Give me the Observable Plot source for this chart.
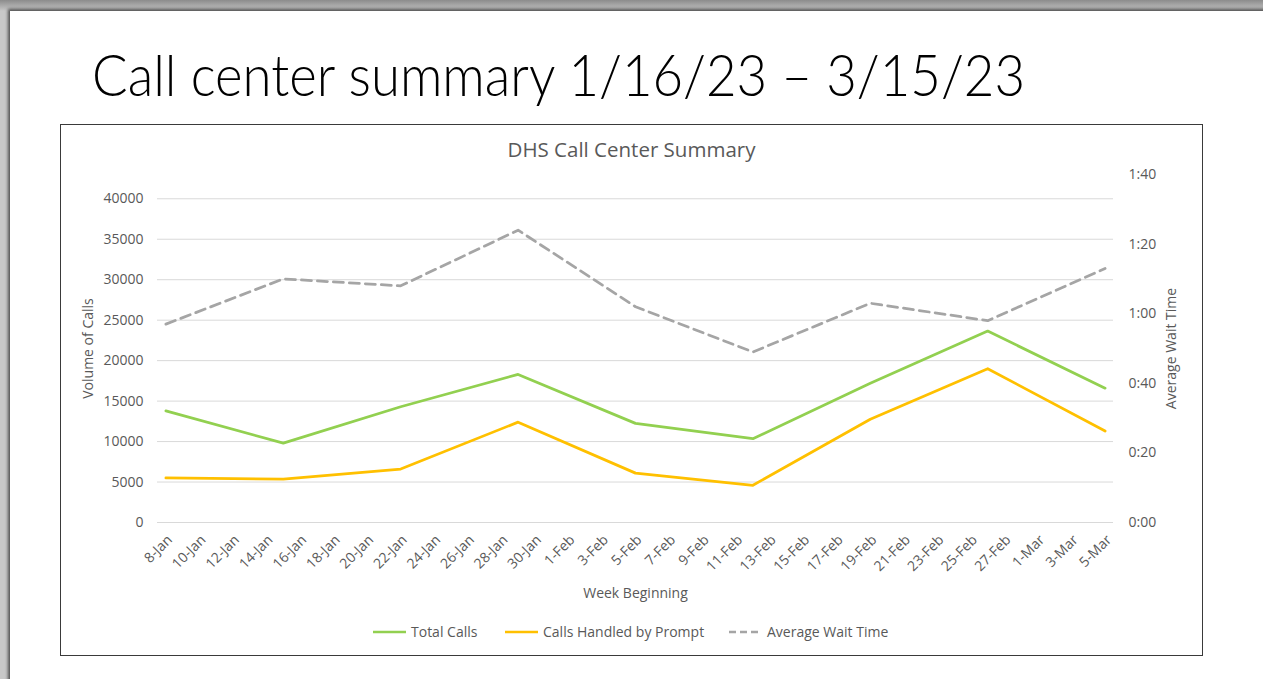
<!DOCTYPE html>
<html><head><meta charset="utf-8">
<script src="https://cdn.jsdelivr.net/npm/d3@7"></script>
<script src="https://cdn.jsdelivr.net/npm/@observablehq/plot@0.6"></script>
<style>
html,body{margin:0;padding:0;width:1263px;height:679px;overflow:hidden;background:linear-gradient(#8c8c8c,#c8c8c8 11px);}
#slide{position:absolute;left:10px;top:11px;width:1300px;height:720px;background:#fff;box-shadow:-1px -1px 3px 1px rgba(0,0,0,0.6);}
#title{position:absolute;left:92px;top:45px;font-family:Lato,"Open Sans",sans-serif;font-weight:300;font-size:58px;line-height:1;color:#000;white-space:nowrap;transform-origin:0 0;}
#box{position:absolute;left:60px;top:124px;width:1141px;height:530px;border:1px solid #3a3a3a;background:#fff;}
#ctitle{position:absolute;left:0;width:1141px;top:10px;text-align:center;font-family:"Open Sans",sans-serif;font-size:20.5px;color:#595959;}
#chart{position:absolute;left:0;top:0;width:1140px;height:490px;}
.leg{position:absolute;top:497px;font-family:"Open Sans",sans-serif;font-size:14px;color:#595959;display:flex;align-items:center;white-space:nowrap;}
.leg svg{margin-right:5px;}
#dbg{position:absolute;left:100px;top:300px;color:red;font:12px monospace;}
</style></head>
<body>
<div id="slide"></div>
<div id="title">Call center summary 1/16/23 – 3/15/23</div>
<div id="box">
  <div id="ctitle">DHS Call Center Summary</div>
  <div id="chart"></div>
  <div id="legend"></div>
</div>
<div id="dbg"></div>
<script>
// ---- data ----
const weeks = ["2023-01-08","2023-01-15","2023-01-22","2023-01-29","2023-02-05","2023-02-12","2023-02-19","2023-02-26","2023-03-05"];
const totalCalls = [13800, 9800, 14300, 18300, 12250, 10350, 17200, 23650, 16600];
const promptCalls = [5500, 5350, 6600, 12400, 6100, 4600, 12750, 19000, 11300];
const waitSeconds = [57, 70, 68, 84, 62, 49, 63, 58, 73];
const seriesNames = ["Total Calls", "Calls Handled by Prompt", "Average Wait Time"];
const seriesColors = ["#92d050", "#ffc000", "#a5a5a5"];
const xTickLabels = ["8-Jan","10-Jan","12-Jan","14-Jan","16-Jan","18-Jan","20-Jan","22-Jan","24-Jan","26-Jan","28-Jan","30-Jan","1-Feb","3-Feb","5-Feb","7-Feb","9-Feb","11-Feb","13-Feb","15-Feb","17-Feb","19-Feb","21-Feb","23-Feb","25-Feb","27-Feb","1-Mar","3-Mar","5-Mar"];
const leftTicks = [0,5000,10000,15000,20000,25000,30000,35000,40000];
const rightTicks = [0,20,40,60,80,100]; // seconds
const leftMax = 43000, rightMax = 100;

const dbg = document.getElementById("dbg");
try {
// title fit
const t = document.getElementById("title");
t.style.transform = `scaleX(${933 / t.getBoundingClientRect().width})`;

// legend
const legLeft = [312, 444, 668];
const legend = document.getElementById("legend");
seriesNames.forEach((n,i) => {
  const d = document.createElement("div");
  d.className = "leg";
  d.style.left = legLeft[i] + "px";
  const dash = i === 2 ? 'stroke-dasharray="7,4"' : "";
  d.innerHTML = `<svg width="33" height="10"><line x1="0" x2="33" y1="5" y2="5" stroke="${seriesColors[i]}" stroke-width="2.5" ${dash}/></svg><span>${n}</span>`;
  legend.appendChild(d);
});

const k = leftMax / rightMax;
const data = weeks.map((w,i)=>({date: new Date(w + "T00:00:00Z"), total: totalCalls[i], prompt: promptCalls[i], wait: waitSeconds[i]}));
const monthIdx = {Jan: 0, Feb: 1, Mar: 2};
const tickDates = xTickLabels.map(s => { const [d, m] = s.split("-"); return new Date(Date.UTC(2023, monthIdx[m], +d)); });
const halfDay = 12*3600*1000;
const x0 = new Date(tickDates[0].getTime() - halfDay);
const x1 = new Date(tickDates[tickDates.length-1].getTime() + halfDay);
const fmtTime = s => Math.floor(s/60) + ":" + String(Math.round(s%60)).padStart(2,"0");
const fmtDate = d => d.getUTCDate() + "-" + ["Jan","Feb","Mar"][d.getUTCMonth()];

const chart = Plot.plot({
  width: 1140, height: 490,
  marginLeft: 96, marginRight: 88, marginTop: 49, marginBottom: 93,
  style: {fontFamily: "'Open Sans', sans-serif", fontSize: "14px", color: "#595959", background: "transparent", overflow: "visible"},
  x: {type: "utc", domain: [x0, x1]},
  y: {domain: [0, leftMax]},
  marks: [
    Plot.gridY(leftTicks, {stroke: "#d9d9d9", strokeOpacity: 1, strokeWidth: 1}),
    Plot.axisY(leftTicks, {anchor: "left", tickSize: 0, tickPadding: 14, tickFormat: d => String(d), label: null}),
    Plot.axisY(rightTicks.map(s => s*k), {anchor: "right", tickSize: 0, tickPadding: 15, tickFormat: v => fmtTime(v/k), label: null}),
    Plot.axisX(tickDates, {anchor: "bottom", tickSize: 0, tickPadding: 15, dx: 4, tickRotate: -45, tickFormat: fmtDate, label: null}),
    Plot.text(["Volume of Calls"], {frameAnchor: "left", textAnchor: "middle", dx: -69, rotate: -90, fill: "#595959"}),
    Plot.text(["Average Wait Time"], {frameAnchor: "right", textAnchor: "middle", dx: 58, rotate: -90, fill: "#595959"}),
    Plot.text(["Week Beginning"], {frameAnchor: "bottom", dy: 75, fill: "#595959"}),
    Plot.lineY(data, {x: "date", y: "total", stroke: seriesColors[0], strokeWidth: 2.75}),
    Plot.lineY(data, {x: "date", y: "prompt", stroke: seriesColors[1], strokeWidth: 2.75}),
    Plot.lineY(data, {x: "date", y: d => d.wait * k, stroke: seriesColors[2], strokeWidth: 2.75, strokeDasharray: "10,6"})
  ]
});
document.getElementById("chart").appendChild(chart);
} catch (e) { dbg.textContent = "ERR: " + e.message + " " + (typeof Plot) + " " + (typeof d3); }
</script>
</body></html>
